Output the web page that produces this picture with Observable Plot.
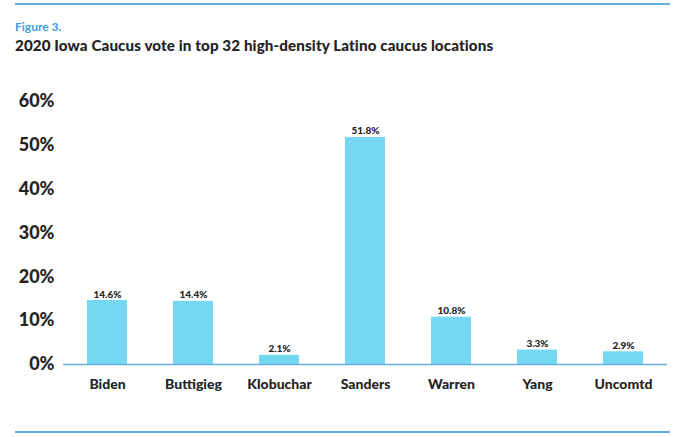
<!DOCTYPE html>
<html>
<head>
<meta charset="utf-8">
<script src="https://cdn.jsdelivr.net/npm/d3@7"></script>
<script src="https://cdn.jsdelivr.net/npm/@observablehq/plot@0.6"></script>
<style>
  html, body { margin: 0; padding: 0; background: #fff; }
  #wrap { position: relative; width: 680px; height: 437px; overflow: hidden; font-family: Lato, "Open Sans", sans-serif; }
  .rule { position: absolute; left: 15px; width: 655px; height: 2px; background: #67aee0; }
  #fig { position: absolute; left: 15px; top: 19px; font-size: 12px; font-weight: 700; color: #3d9ee2; }
  #title { position: absolute; left: 15px; top: 36px; font-size: 15.2px; font-weight: 900; color: #232323; white-space: nowrap; letter-spacing: 0.1px; }
  #chart { position: absolute; left: 0; top: 62px; }
</style>
</head>
<body>
<div id="wrap">
  <div class="rule" style="top:3px"></div>
  <div id="fig">Figure 3.</div>
  <div id="title">2020 Iowa Caucus vote in top 32 high-density Latino caucus locations</div>
  <div id="chart"></div>
  <div class="rule" style="top:431px"></div>
</div>
<script>
const candidates = ["Biden", "Buttigieg", "Klobuchar", "Sanders", "Warren", "Yang", "Uncomtd"];
const shares = [14.6, 14.4, 2.1, 51.8, 10.8, 3.3, 2.9];
const yTicks = [0, 10, 20, 30, 40, 50, 60];

const data = candidates.map((c, i) => ({candidate: c, share: shares[i]}));

const plot = Plot.plot({
  width: 680,
  height: 375,
  marginTop: 39,
  marginBottom: 73,
  marginLeft: 63,
  marginRight: 13,
  style: {fontFamily: "Lato, 'Open Sans', sans-serif", color: "#232323", background: "transparent"},
  x: {domain: candidates, paddingInner: 0.536, paddingOuter: 0.267, label: null},
  y: {domain: [0, 60], label: null},
  marks: [
    Plot.barY(data, {x: "candidate", y: "share", fill: "#74d8f3"}),
    Plot.ruleY([0], {stroke: "#67aee0", strokeWidth: 1.5}),
    Plot.text(data, {x: "candidate", y: "share", text: d => d.share.toFixed(1) + "%", lineAnchor: "bottom", dy: -3, fontSize: 10, fontWeight: 900, fill: "#232323"}),
    Plot.axisY({ticks: yTicks, tickSize: 0, tickPadding: 9, tickFormat: d => d + "%", fontSize: 18, fontWeight: 900, fill: "#232323"}),
    Plot.axisX({tickSize: 0, tickPadding: 15, fontSize: 14, fontWeight: 900, fill: "#232323"})
  ]
});
document.getElementById("chart").appendChild(plot);
</script>
</body>
</html>
